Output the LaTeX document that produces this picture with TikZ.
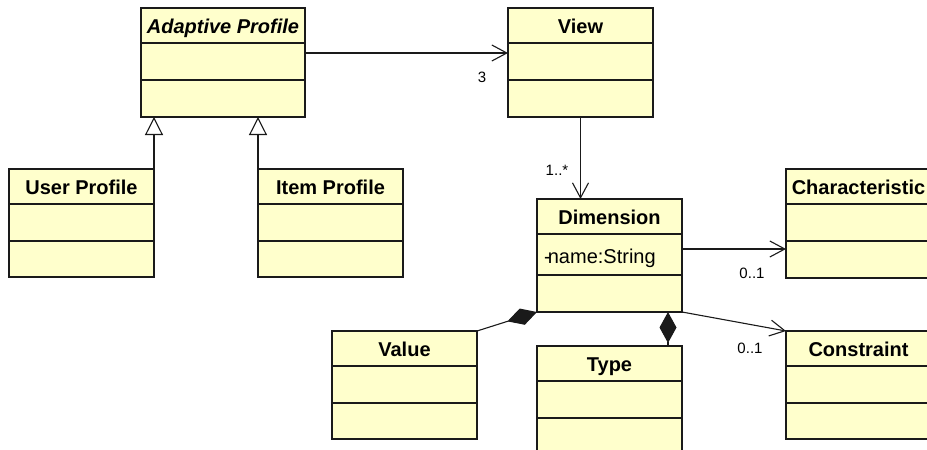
\documentclass[tikz,border=0pt]{standalone}
\usepackage{fontspec}
\setmainfont{Liberation Sans}
\usetikzlibrary{arrows.meta,calc}
\definecolor{clsfill}{HTML}{FFFFCC}
\definecolor{ink}{HTML}{1A1A1A}

% UML class box: name, left x, top y, width, height, attribute-compartment height, title
\newcommand\umlclass[7]{%
  \node[cls, minimum width=#4pt, minimum height=#5pt] (#1) at ({#2+#4/2},{#3+#5/2}) {};
  \node[clsname] (#1-name) at ($(#1.north)+(0,25.5)$) {#7};
  \draw[sep] ($(#1.north west)+(0,35)$) -- ($(#1.north east)+(0,35)$);
  \draw[sep] ($(#1.north west)+(0,35+#6)$) -- ($(#1.north east)+(0,35+#6)$);
}

\begin{document}
\begin{tikzpicture}[x=1pt,y=-1pt,
  cls/.style={rectangle, draw=ink, fill=clsfill, line width=1.2pt, inner sep=0pt, outer sep=0pt},
  clsname/.style={font=\fontsize{20}{24}\selectfont\bfseries, text=black, anchor=base, inner sep=0pt},
  sep/.style={draw=ink, line width=1.2pt},
  assoc/.style={draw=ink, line width=1.1pt, -{Straight Barb[length=15pt,width=16pt]}},
  gen/.style={draw=ink, line width=1.1pt, -{Triangle[length=18pt,width=18pt,fill=white]}},
  comp/.style={draw=ink, line width=1.1pt, {Diamond[length=31pt,width=17pt]}-},
  mult/.style={font=\fontsize{15}{18}\selectfont, text=black, inner sep=0pt},
]
\fill[white] (0,0) rectangle (927,450);
\useasboundingbox (0,0) rectangle (927,450);
\clip (0,0) rectangle (927,450);

% classes
\umlclass{ap}{141}{8}{164}{109}{37}{\itshape Adaptive Profile}
\umlclass{view}{508}{8}{145}{109}{37}{View}
\umlclass{up}{9}{169}{145}{108}{37}{User Profile}
\umlclass{ip}{258}{169}{145}{108}{37}{Item Profile}
\umlclass{dim}{537}{199}{145}{113}{41}{Dimension}
\umlclass{ch}{786}{169}{145}{109}{37}{Characteristic}
\umlclass{val}{332}{331}{145}{108}{37}{Value}
\umlclass{typ}{537}{346}{145}{108}{37}{Type}
\umlclass{con}{786}{331}{145}{108}{37}{Constraint}

\node[anchor=base west, font=\fontsize{20}{24}\selectfont, inner sep=0pt] (dim-attr)
  at ($(dim.north west)+(7,64)$) {-\kern-3pt name:String};

% generalisations
\draw[gen] (up.north east) -- (up.north east |- ap.south);
\draw[gen] (ip.north west) -- (ip.north west |- ap.south);

% associations
\draw[assoc] ([yshift=9.5pt]ap.east) -- ([yshift=9.5pt]view.west);
\draw[assoc] (view.south) -- (view.south |- dim.north);
\draw[assoc] ([yshift=6.5pt]dim.east) -- ([yshift=6.5pt]dim.east -| ch.west);
\draw[assoc] (dim.south east) -- (con.north west);

% compositions
\draw[comp] (dim.south west) -- (val.north east);
\draw[comp] ([xshift=-14pt]dim.south east) -- ([xshift=-14pt]typ.north east);

% multiplicities
\node[mult] (m-view) at (482,77) {3};
\node[mult] (m-dim) at (557,170) {1..*};
\node[mult] (m-ch) at (752,273) {0..1};
\node[mult] (m-con) at (750,348) {0..1};
\end{tikzpicture}
\end{document}
